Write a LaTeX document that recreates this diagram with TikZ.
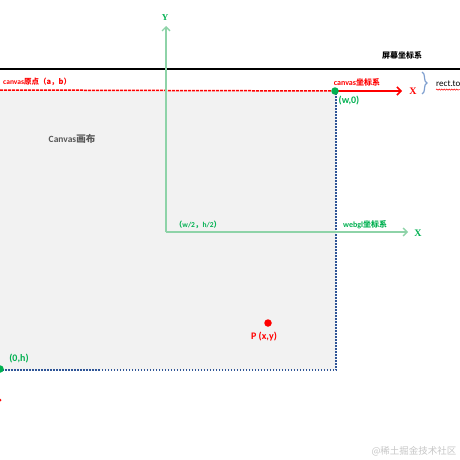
\documentclass[tikz,border=0pt]{standalone}
\usepackage{fontspec}
\setmainfont{Carlito}
\newfontfamily\cjk{Noto Sans CJK SC}
\newfontfamily\axisfont{Liberation Serif}
\usetikzlibrary{arrows.meta,decorations.pathreplacing,decorations.pathmorphing}

\definecolor{glgreen}{HTML}{00B050}
\definecolor{axisgreen}{HTML}{8ED3A8}
\definecolor{borderblue}{HTML}{2F5597}
\definecolor{canvasgray}{HTML}{F2F2F2}
\definecolor{bracecol}{HTML}{7F9FCF}
\definecolor{textgray}{HTML}{595959}

\begin{document}
\begin{tikzpicture}[x=1pt,y=-1pt]
\tikzstyle{lbl}=[inner sep=0pt,font=\bfseries\fontsize{7.5}{9}\selectfont]
\tikzstyle{biglbl}=[inner sep=0pt,font=\bfseries\fontsize{10}{12}\selectfont]
\tikzstyle{axislbl}=[inner sep=0pt,font=\axisfont\bfseries\fontsize{10}{12}\selectfont]
\tikzstyle{dot}=[circle,inner sep=0pt,minimum size=7.5pt]
\tikzstyle{barb}=[-{Straight Barb[length=4pt,width=8pt]}]

\useasboundingbox (0,0) rectangle (460,460);
\clip (0,0) rectangle (460,460);

% canvas area
\fill[canvasgray] (0,91) rectangle (336,370);
\coordinate (canvasTL) at (0,90);
\coordinate (canvasTR) at (336,90);
\coordinate (canvasBR) at (336,370);
\coordinate (canvasBL) at (0,370);
\draw[borderblue,line width=1.5pt,dash pattern=on 1.5pt off 1.5pt] (canvasTR) -- (canvasBR) -- (canvasBL);

% screen line
\coordinate (screenL) at (0,69);
\coordinate (screenR) at (460,69);
\draw[line width=1.8pt] (screenL) -- (screenR);
\node (screenlbl) [inner sep=0pt,font=\cjk\bfseries\fontsize{8}{10}\selectfont] at (402,55) {屏幕坐标系};

% canvas axis
\coordinate (wcorner) at (335,91);
\coordinate (canvasXtip) at (402,91);
\draw[red,line width=1.5pt,dash pattern=on 3pt off 1pt] (canvasTL) -- (wcorner);
\draw[red,line width=1.5pt,barb] (wcorner) -- (canvasXtip);
\node (canvasX) [axislbl,text=red] at (413,91) {X};
\node (canvaslbl) [lbl,text=red,font=\bfseries\fontsize{8}{10}\selectfont] at (357,82) {canvas{\cjk 坐标系}};
\node (originlbl) [lbl,text=red,anchor=west] at (3,82) {canvas{\cjk 原点（a，b）}};
\node (canvasname) [biglbl,text=textgray,font=\bfseries\fontsize{9.5}{11}\selectfont] at (72,139) {Canvas{\cjk 画布}};

% rect.to brace
\coordinate (braceT) at (422,72);
\coordinate (braceB) at (422,94);
\draw[bracecol,line width=1.2pt,decorate,decoration={brace,amplitude=5pt}] (braceT) -- (braceB);
\node (recttop) [inner sep=0pt,anchor=west,font=\fontsize{9}{11}\selectfont] at (436,84) {rect.to};
\draw[red,line width=0.5pt,decorate,decoration={snake,amplitude=0.6pt,segment length=2.5pt}] (recttop.south west) ++(0,2.5) -- ++(24,0);

% webgl axes
\coordinate (webglO) at (166,232);
\coordinate (webglY) at (166,26);
\coordinate (webglX) at (408,232);
\draw[axisgreen,line width=1.3pt,barb] (webglO) -- (webglY);
\draw[axisgreen,line width=1.3pt,barb] (webglO) -- (webglX);
\node (glY) [axislbl,text=glgreen,font=\axisfont\bfseries\fontsize{9}{10}\selectfont] at (165,18) {Y};
\node (glX) [axislbl,text=glgreen] at (418,233) {X};
\node (centerlbl) [lbl,text=glgreen] at (198,225) {{\cjk （}w/2{\cjk ，}h/2{\cjk ）}};
\node (webgllbl) [lbl,text=glgreen,anchor=west,font=\bfseries\fontsize{8}{10}\selectfont] at (343,225) {webgl{\cjk 坐标系}};

% corner points
\node (wdot) [dot,fill=glgreen] at (wcorner) {};
\node (wlbl) [biglbl,text=glgreen] at (349,101) {(w,0)};
\node (hdot) [dot,fill=glgreen] at (0,369) {};
\node (hlbl) [biglbl,text=glgreen] at (19,359) {(0,h)};
\node (reddot) [circle,inner sep=0pt,minimum size=3pt,fill=red] at (0,400) {};

% point P
\node (P) [dot,fill=red] at (268,323) {};
\node (Plbl) [biglbl,text=red] at (264,337) {P (x,y)};

\node (mark) [inner sep=0pt,text=gray!45,font=\cjk\fontsize{9.5}{11}\selectfont] at (414,451) {@稀土掘金技术社区};
\end{tikzpicture}
\end{document}
